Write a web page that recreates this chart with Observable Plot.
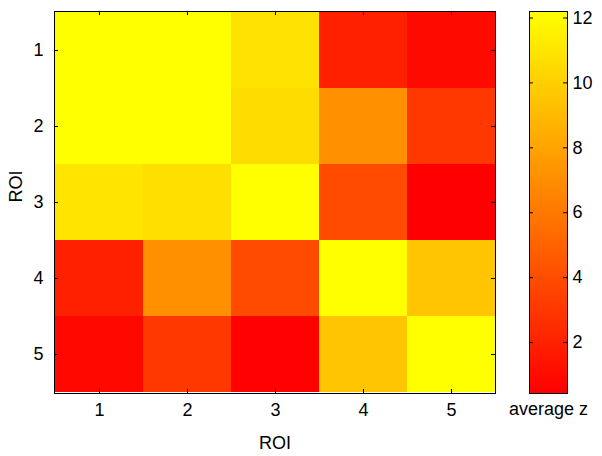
<!DOCTYPE html>
<html>
<head>
<meta charset="utf-8">
<script src="https://cdn.jsdelivr.net/npm/d3@7"></script>
<script src="https://cdn.jsdelivr.net/npm/@observablehq/plot@0.6"></script>
<style>
  html, body { margin: 0; padding: 0; background: #fff; }
  #chart { position: relative; width: 602px; height: 456px; }
  #chart svg { position: absolute; left: 0; top: 0; }
</style>
</head>
<body>
<div id="chart"></div>
<script>
// ---- data ----
const rois = [1, 2, 3, 4, 5];
const row1 = [12.2, 12.2, 10.9, 1.9, 0.9];
const row2 = [12.2, 12.2, 10.6, 7.1, 3.0];
const row3 = [11.0, 10.7, 12.2, 3.9, 0.43];
const row4 = [1.9, 7.1, 3.9, 12.2, 9.5];
const row5 = [0.8, 3.0, 0.5, 9.5, 12.2];
const colorTicks = [2, 4, 6, 8, 10, 12];
const zDomain = [0.43, 12.2];
const colorbarLabel = "average z";
const axisLabel = "ROI";

const rows = [row1, row2, row3, row4, row5];
const cells = [];
rows.forEach((r, i) => r.forEach((z, j) => cells.push({row: rois[i], col: rois[j], z})));

const W = 602, H = 456;
const font = "'Liberation Sans', Arial, Helvetica, sans-serif";
const FS = 18;
const colorScale = {type: "linear", domain: zDomain, range: ["#ff0000", "#ffff00"], interpolate: "rgb", clamp: true};
const T = 4; // inside tick length

const mL = 54, mT = 11, mR = W - 495, mB = H - 393;
const frameW = W - mL - mR, frameH = H - mT - mB;

const main = Plot.plot({
  width: W, height: H,
  marginLeft: mL, marginTop: mT, marginRight: mR, marginBottom: mB,
  style: {fontFamily: font, fontSize: FS + "px", color: "#000", background: "transparent"},
  x: {type: "band", domain: rois, padding: 0},
  y: {type: "band", domain: rois, padding: 0},
  color: colorScale,
  marks: [
    Plot.cell(cells, {x: "col", y: "row", fill: "z", inset: 0}),
    Plot.axisX({anchor: "bottom", tickSize: 0, tickPadding: 10, label: null, fontSize: FS}),
    Plot.axisY({anchor: "left", tickSize: 0, tickPadding: 11, label: null, fontSize: FS}),
    Plot.tickX(rois, {x: d => d, insetTop: frameH - T, stroke: "#000"}),
    Plot.tickX(rois, {x: d => d, insetBottom: frameH - T, stroke: "#000"}),
    Plot.tickY(rois, {y: d => d, insetRight: frameW - T, stroke: "#000"}),
    Plot.tickY(rois, {y: d => d, insetLeft: frameW - T, stroke: "#000"}),
    Plot.frame({stroke: "#000"}),
    Plot.text([axisLabel], {frameAnchor: "bottom", dy: 55, lineAnchor: "bottom", fontSize: FS}),
    Plot.text([axisLabel], {frameAnchor: "left", dx: -38, rotate: -90, lineAnchor: "middle", fontSize: FS})
  ]
});

const cbL = 529, cbR = W - 567;
const cbW = W - cbL - cbR;
const cbar = Plot.plot({
  width: W, height: H,
  marginLeft: cbL, marginRight: cbR, marginTop: mT, marginBottom: mB,
  style: {fontFamily: font, fontSize: FS + "px", color: "#000", background: "transparent"},
  x: {domain: [0, 1], axis: null},
  y: {domain: zDomain, axis: null},
  color: colorScale,
  marks: [
    Plot.raster({fill: (x, y) => y, x1: 0, x2: 1, y1: zDomain[0], y2: zDomain[1], width: 1, height: 256}),
    Plot.axisY(colorTicks, {anchor: "right", tickSize: 0, tickPadding: 5, label: null, fontSize: FS}),
    Plot.tickY(colorTicks, {y: d => d, insetRight: cbW - T, stroke: "#000"}),
    Plot.tickY(colorTicks, {y: d => d, insetLeft: cbW - T, stroke: "#000"}),
    Plot.frame({stroke: "#000"}),
    Plot.text([colorbarLabel], {frameAnchor: "bottom", dy: 21, lineAnchor: "bottom", fontSize: FS})
  ]
});

const el = document.getElementById("chart");
el.appendChild(main);
el.appendChild(cbar);
</script>
</body>
</html>
